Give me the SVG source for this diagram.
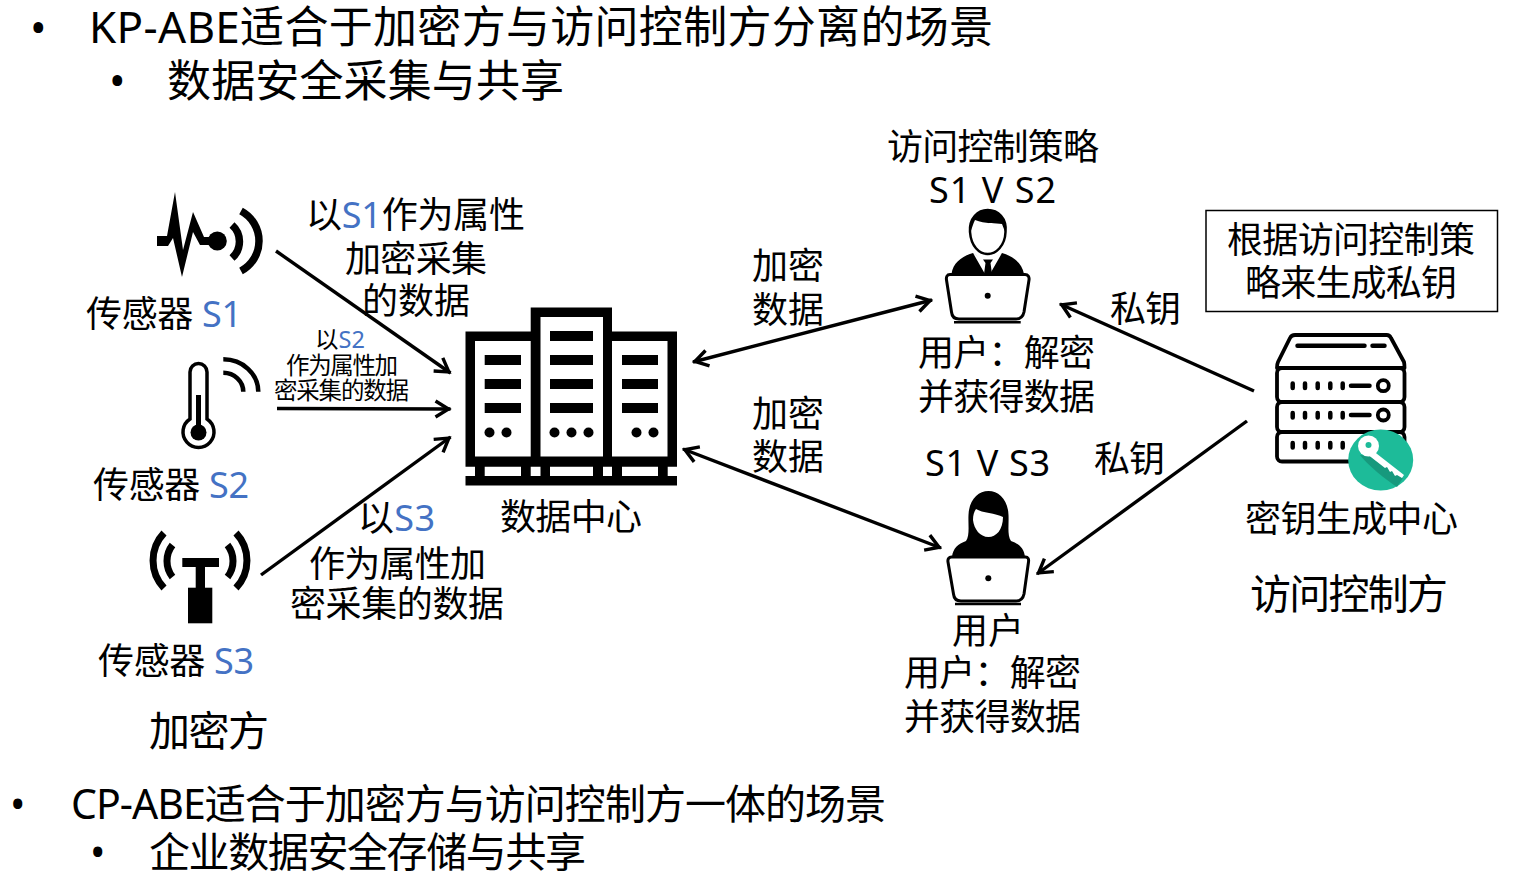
<svg xmlns="http://www.w3.org/2000/svg" width="1533" height="886" viewBox="0 0 1533 886">
<style>
text{font-family:"Noto Sans","Noto Sans CJK SC",sans-serif;fill:#000;font-size:36px}
.b{fill:#4472C4}
.h1{font-size:44px}
.h2{font-size:41px}
.s{font-size:23.500px}
.a{fill:none;stroke:#000;stroke-width:3.400}
.k{fill:none;stroke:#000;stroke-width:3.800;stroke-linecap:round;stroke-linejoin:round}
.w{fill:#fff;stroke:#000;stroke-width:3;stroke-linejoin:round}
</style>
<defs>
<marker id="ar" markerUnits="userSpaceOnUse" markerWidth="24" markerHeight="24" refX="20" refY="12" orient="auto-start-reverse" viewBox="0 0 24 24"><path d="M5 4L18 12L5 20" fill="none" stroke="#000" stroke-width="3.400"/></marker>
</defs>
<g id="headings">
<text x="30" y="44" class="h1">•</text>
<text x="89" y="43" class="h1" textLength="904">KP-ABE适合于加密方与访问控制方分离的场景</text>
<text x="109" y="97" class="h1">•</text>
<text x="167" y="97" class="h1" textLength="397">数据安全采集与共享</text>
<text x="10" y="819" class="h2">•</text>
<text x="71" y="819" class="h2" textLength="815">CP-ABE适合于加密方与访问控制方一体的场景</text>
<text x="90" y="867" class="h2">•</text>
<text x="149" y="867" class="h2" textLength="437">企业数据安全存储与共享</text>
</g>
<g id="connectors">
<line class="a" x1="276" y1="251" x2="450.500" y2="373" marker-end="url(#ar)"/>
<line class="a" x1="277" y1="408.500" x2="450.500" y2="409" marker-end="url(#ar)"/>
<line class="a" x1="261" y1="575" x2="450.500" y2="437" marker-end="url(#ar)"/>
<line class="a" x1="693" y1="362" x2="932" y2="300" marker-start="url(#ar)" marker-end="url(#ar)"/>
<line class="a" x1="683" y1="449" x2="941" y2="548" marker-start="url(#ar)" marker-end="url(#ar)"/>
<line class="a" x1="1254" y1="391" x2="1060" y2="304" marker-end="url(#ar)"/>
<line class="a" x1="1247" y1="421" x2="1037" y2="574" marker-end="url(#ar)"/>
</g>
<g id="sensor-s1">
<polygon points="157,236 167,236 175,192 183,250 193,212 204,237 217,237 217,245 200,245 193,232 182,277 173,238 168,246 157,246"/>
<circle cx="217.300" cy="241" r="9.500"/>
<path d="M232 225A22 22 0 0 1 232 258M241 211A34 34 0 0 1 241 271" fill="none" stroke="#000" stroke-width="7.500"/>
<text x="86" y="326.500" textLength="156">传感器 <tspan class="b">S1</tspan></text>
</g>
<g id="sensor-s2">
<path d="M190 419V372A8.500 8.500 0 0 1 207 372V419A15.500 15.500 0 1 1 190 419Z" fill="#fff" stroke="#000" stroke-width="3.500"/>
<rect x="196" y="395" width="5" height="36"/>
<circle cx="198.500" cy="432.500" r="8"/>
<path d="M223.300 359.300A35 32.500 0 0 1 258.300 391.700M223.300 372.700A20 19 0 0 1 243.300 391.700" fill="none" stroke="#000" stroke-width="4.500"/>
<text x="93" y="497.500" textLength="156">传感器 <tspan class="b">S2</tspan></text>
</g>
<g id="sensor-s3">
<rect x="182.300" y="558" width="36.700" height="9"/>
<rect x="195.700" y="567" width="9.300" height="21"/>
<rect x="188" y="587.700" width="24.300" height="35.600"/>
<path d="M164 533A40 40 0 0 0 164 588M172.500 545A26 26 0 0 0 172.500 577M236 533A40 40 0 0 1 236 588M227.500 545A26 26 0 0 1 227.500 577" fill="none" stroke="#000" stroke-width="7"/>
<text x="98" y="673.500" textLength="156">传感器 <tspan class="b">S3</tspan></text>
</g>
<g id="data-center">
<path fill-rule="evenodd" d="M465.500 331.500H530.700V307.500H612V331.500H677V466.700H667.700V476H677V485.500H465.500V476H475V466.700H465.500ZM475 341V456.500H530.700V341ZM540.500 317V456.500H603V317ZM612 341V456.500H667.500V341ZM484.700 466.700V476H521V466.700ZM530.700 466.700V476H540.500V466.700ZM550 466.700V476H593V466.700ZM603 466.700V476H612V466.700ZM622 466.700V476H658V466.700Z"/>
<path d="M484.700 355H521V365H484.700ZM484.700 379H521V389H484.700ZM484.700 403H521V413H484.700ZM550 331H593V341H550ZM550 355H593V365H550ZM550 379H593V389H550ZM550 403H593V413H550ZM622 355H658V365H622ZM622 379H658V389H622ZM622 403H658V413H622Z"/>
<circle cx="489.500" cy="432.500" r="5"/><circle cx="506.500" cy="432.500" r="5"/>
<circle cx="554.500" cy="432.500" r="5"/><circle cx="571.500" cy="432.500" r="5"/><circle cx="588.500" cy="432.500" r="5"/>
<circle cx="636.500" cy="432.500" r="5"/><circle cx="653.500" cy="432.500" r="5"/>
<text x="500" y="530" textLength="142">数据中心</text>
</g>
<g id="user-1">
<path d="M951.500 274C953 262 963 256 973 253L983 261H993L1002 253C1012 256 1022 262 1024 274Z"/>
<path d="M973 253L985 274H990L1002 253L993 259H982Z" fill="#fff"/>
<path d="M983 259.500H993L990.500 263L992 274H984L985.500 263Z"/>
<path d="M970 232C969 218 978 210 987.700 210C998 210 1007 218 1005.500 232C1005 246 996 254 987.700 254C979 254 971 246 970 232Z" fill="#fff" stroke="#000" stroke-width="2.500"/>
<path d="M970 233C968 218 978 209.500 987.700 209.500C998 209.500 1007 218 1005.500 233L1002 224C996 223 985 224 975 220C973 224 972 228 970 233Z"/>
<path class="w" d="M950 274.500H1025C1028 274.500 1029.500 277 1029 280L1024 312C1023 317 1020 319 1016 319H959C955 319 952 317 951.500 312L946.500 280C946 277 947 274.500 950 274.500Z"/>
<circle cx="987.700" cy="295.700" r="3"/>
<line x1="954" y1="322.300" x2="1020.700" y2="322.300" stroke="#000" stroke-width="2.500"/>
</g>
<g id="user-2">
<path d="M952 557C953 548 958 544 966 541C970 535 968 525 968.500 515C969 500 978 491 988.500 491C999 491 1008 500 1008.500 515C1009 525 1007 535 1011 541C1019 544 1024 548 1025 557Z"/>
<path d="M976 509C982 513 996 513 1003 517C1003 530 996 537 988.500 537C980 537 974 529 973 520C973 515 974 512 976 509Z" fill="#fff"/>
<path class="w" d="M951.500 557H1025.500C1028 557 1029 559 1028.500 562L1024 594C1023 599 1020 601 1016 601H961C957 601 954 599 953.500 594L948 562C947.500 559 949 557 951.500 557Z"/>
<circle cx="988.300" cy="578.300" r="3"/>
<line x1="955" y1="604" x2="1021" y2="604" stroke="#000" stroke-width="2.500"/>
</g>
<g id="key-center">
<path class="k" fill="#fff" d="M1295 335H1386.700C1389 335 1390 336 1391 338L1404 362C1404.500 364 1404.500 366 1404.500 368H1277C1277 366 1277 364 1278 362L1290 338C1291 336 1293 335 1295 335Z"/>
<rect class="k" x="1277" y="368" width="127.500" height="34" rx="5"/>
<rect class="k" x="1277" y="402" width="127.500" height="30" rx="5"/>
<rect class="k" x="1277" y="432" width="127.500" height="29.500" rx="5"/>
<path class="k" style="stroke-width:4.500" d="M1297.500 345.700H1364.500M1372.500 345.700H1384.500M1292.700 383.500V388M1305 383.500V388M1317.700 383.500V388M1330.300 383.500V388M1342.700 383.500V388M1351 385.700H1369.500M1292.700 413V417.500M1305 413V417.500M1317.700 413V417.500M1330.300 413V417.500M1342.700 413V417.500M1351 415H1369.500M1292.700 443V447.500M1305 443V447.500M1317.700 443V447.500M1330.300 443V447.500M1342.700 443V447.500"/>
<circle class="k" cx="1383.300" cy="385.700" r="5.500"/>
<circle class="k" cx="1383.300" cy="415" r="5.500"/>
<ellipse cx="1380.700" cy="460" rx="32.500" ry="30.500" fill="#1DBB99"/>
<path d="M1372 456L1403 478L1397 487C1392 484 1370 468 1360 455Z" fill="#17997D"/>
<circle cx="1368.500" cy="446" r="10.500" fill="#fff"/>
<path d="M1372 450L1404 475L1402 478L1397 475L1395 476L1392 471L1390 472L1387 467L1385 468L1367 454Z" fill="#fff"/>
<circle cx="1368.500" cy="445" r="3" fill="#1DBB99"/>
<text x="1245" y="532" textLength="213">密钥生成中心</text>
</g>
<g id="policy-box">
<rect x="1206" y="210.500" width="291.500" height="101" fill="none" stroke="#000" stroke-width="1.500"/>
<text x="1227" y="252.500" textLength="248">根据访问控制策</text>
<text x="1245" y="295.500" textLength="212">略来生成私钥</text>
</g>
<g id="labels">
<text x="887" y="160" textLength="212">访问控制策略</text>
<text x="929" y="203" textLength="127">S1 V S2</text>
<text x="1110" y="322" textLength="71">私钥</text>
<text x="918" y="366" textLength="177">用户：解密</text>
<text x="918" y="410" textLength="177">并获得数据</text>
<text x="752" y="279" textLength="72">加密</text>
<text x="752" y="323" textLength="72">数据</text>
<text x="752" y="427" textLength="72">加密</text>
<text x="752" y="470" textLength="72">数据</text>
<text x="925" y="476" textLength="125">S1 V S3</text>
<text x="1094" y="472" textLength="71">私钥</text>
<text x="952" y="644" textLength="72">用户</text>
<text x="904" y="686" textLength="177">用户：解密</text>
<text x="904" y="730" textLength="177">并获得数据</text>
<text x="306" y="228" textLength="219">以<tspan class="b">S1</tspan>作为属性</text>
<text x="345" y="272" textLength="142">加密采集</text>
<text x="362" y="314" textLength="108">的数据</text>
<text class="s" x="315" y="347.500" textLength="50">以<tspan class="b">S2</tspan></text>
<text class="s" x="286" y="373.500" textLength="112">作为属性加</text>
<text class="s" x="274" y="398.500" textLength="135">密采集的数据</text>
<text x="358" y="531" textLength="77">以<tspan class="b">S3</tspan></text>
<text x="309" y="576.500" textLength="177">作为属性加</text>
<text x="290" y="617" textLength="214">密采集的数据</text>
<text class="h2" x="149" y="746" textLength="120">加密方</text>
<text class="h2" x="1250" y="609" textLength="198">访问控制方</text>
</g>
</svg>
